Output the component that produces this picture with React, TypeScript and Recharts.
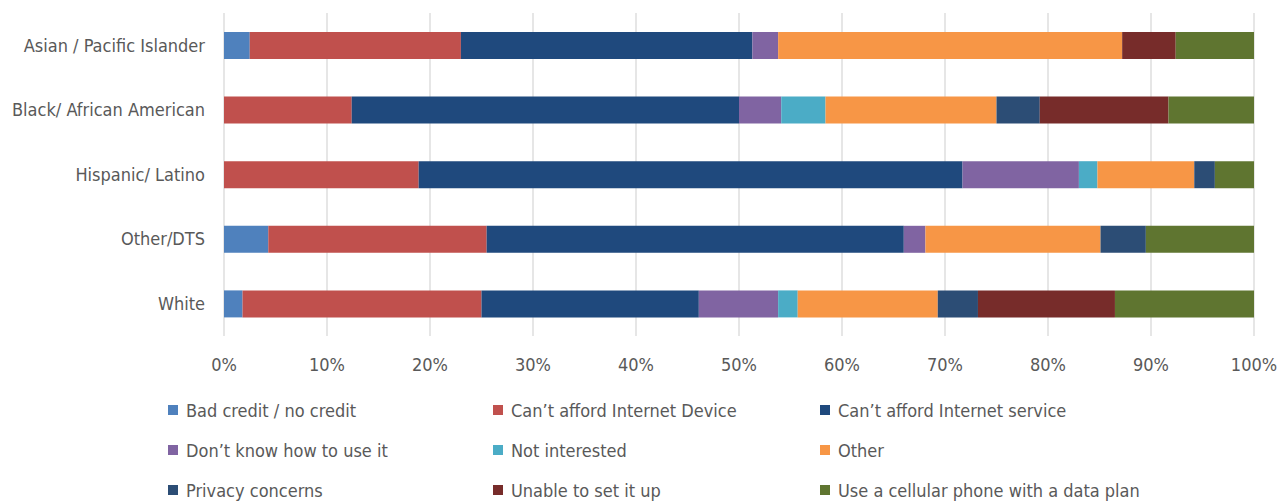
import { Bar, BarChart, CartesianGrid, XAxis, YAxis } from "recharts";

const groups = [
  "Asian / Pacific Islander",
  "Black/ African American",
  "Hispanic/ Latino",
  "Other/DTS",
  "White",
];

// share of responses per group, in %
const badCredit = [2.5, 0, 0, 4.3, 1.8];
const cantAffordDevice = [20.5, 12.4, 18.9, 21.2, 23.2];
const cantAffordService = [28.3, 37.6, 52.8, 40.5, 21.1];
const dontKnowHow = [2.5, 4.1, 11.3, 2.1, 7.7];
const notInterested = [0, 4.3, 1.8, 0, 1.9];
const other = [33.4, 16.6, 9.4, 17.0, 13.6];
const privacy = [0, 4.2, 2.0, 4.4, 3.9];
const unableToSetUp = [5.2, 12.5, 0, 0, 13.3];
const cellularPlan = [7.6, 8.3, 3.8, 10.5, 13.5];

const xTicks = [0, 0.1, 0.2, 0.3, 0.4, 0.5, 0.6, 0.7, 0.8, 0.9, 1];

const series = [
  { key: "badCredit", label: "Bad credit / no credit", color: "#4F81BD", values: badCredit },
  { key: "device", label: "Can\u2019t afford Internet Device", color: "#C0504D", values: cantAffordDevice },
  { key: "service", label: "Can\u2019t afford Internet service", color: "#1F497D", values: cantAffordService },
  { key: "dontKnow", label: "Don\u2019t know how to use it", color: "#8064A2", values: dontKnowHow },
  { key: "notInterested", label: "Not interested", color: "#4BACC6", values: notInterested },
  { key: "other", label: "Other", color: "#F79646", values: other },
  { key: "privacy", label: "Privacy concerns", color: "#2C4D75", values: privacy },
  { key: "unable", label: "Unable to set it up", color: "#772C2A", values: unableToSetUp },
  { key: "cellular", label: "Use a cellular phone with a data plan", color: "#5F7530", values: cellularPlan },
];

const rows = groups.map((name, i) => {
  const row: Record<string, string | number> = { name };
  series.forEach((s) => {
    row[s.key] = s.values[i];
  });
  return row;
});

const font = "'Liberation Sans Narrow', 'DejaVu Sans Condensed', sans-serif";
const textColor = "#595959";
const legendCols = [168, 493, 820];
const legendRows = [410, 450, 490];

function LegendBlock() {
  return (
    <>
      {series.map((s, i) => (
        <div
          key={s.key}
          style={{
            position: "absolute",
            left: legendCols[i % 3],
            top: legendRows[Math.floor(i / 3)] - 12,
            height: 24,
            display: "flex",
            alignItems: "center",
            fontFamily: font,
            fontSize: 18,
            color: textColor,
            whiteSpace: "nowrap",
          }}
        >
          <span style={{ width: 10, height: 10, background: s.color, marginRight: 8 }} />
          {s.label}
        </div>
      ))}
    </>
  );
}

export default function App() {
  return (
    <div style={{ position: "absolute", left: 0, top: 0, width: 1286, height: 501, background: "#fff" }}>
      <BarChart
        width={1286}
        height={380}
        data={rows}
        layout="vertical"
        stackOffset="expand"
        barSize={27}
        margin={{ top: 13, right: 32, bottom: 14, left: 0 }}
      >
        <CartesianGrid horizontal={false} stroke="#d9d9d9" strokeWidth={1.3} />
        <XAxis
          type="number"
          domain={[0, 1]}
          ticks={xTicks}
          tickFormatter={(v: number) => `${Math.round(v * 100)}%`}
          axisLine={false}
          tickLine={false}
          tickMargin={16}
          height={30}
          tick={{ fill: textColor, fontSize: 18, fontFamily: font }}
        />
        <YAxis
          type="category"
          dataKey="name"
          width={224}
          axisLine={false}
          tickLine={false}
          tickMargin={13}
          tick={{ fill: textColor, fontSize: 18, fontFamily: font }}
        />
        {series.map((s) => (
          <Bar key={s.key} dataKey={s.key} stackId="a" fill={s.color} isAnimationActive={false} />
        ))}
      </BarChart>
      <LegendBlock />
    </div>
  );
}
